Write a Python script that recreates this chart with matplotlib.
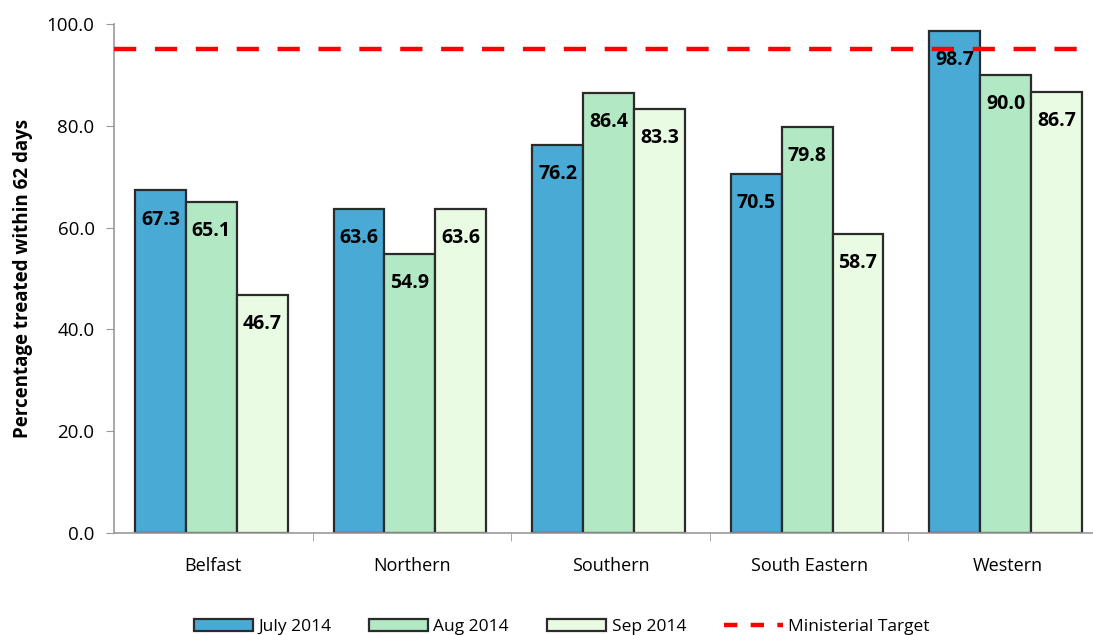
import numpy as np
import matplotlib
matplotlib.use("Agg")
import matplotlib.pyplot as plt
from matplotlib.patches import Patch
from matplotlib.lines import Line2D

plt.rcParams["font.family"] = ["Open Sans", "DejaVu Sans"]

regions = ["Belfast", "Northern", "Southern", "South Eastern", "Western"]
months = ["July 2014", "Aug 2014", "Sep 2014"]
jul = [67.3, 63.6, 76.2, 70.5, 98.7]
aug = [65.1, 54.9, 86.4, 79.8, 90.0]
sep = [46.7, 63.6, 83.3, 58.7, 86.7]
target = 95.0
yticks = [0, 20, 40, 60, 80, 100]

colors = ["#4aaad6", "#b3e8c4", "#eafbe4"]
edge = "#2b2b2b"

fig = plt.figure(figsize=(10.93, 6.35), dpi=100)
ax = fig.add_axes([114 / 1093, 1 - 533 / 635, 993 / 1093, 509 / 635])

x = np.arange(len(regions))
w = 0.256
for i, (vals, c) in enumerate(zip([jul, aug, sep], colors)):
    pos = x + (i - 1) * w - 0.01
    ax.bar(pos, vals, width=w, color=c, edgecolor=edge, linewidth=1.6, zorder=2)
    for px, v in zip(pos, vals):
        ax.annotate(f"{v:.1f}", (px, v), xytext=(0, -21), textcoords="offset points",
                    ha="center", va="center", fontsize=14, fontweight="bold", zorder=4)

ax.axhline(target, color="#ff0000", linewidth=3.2, dashes=(5, 4.2), zorder=3)

ax.set_xlim(-0.5, len(regions) - 0.5)
ax.set_ylim(0, 100)
ax.set_yticks(yticks)
ax.set_yticklabels([f"{t:.1f}" for t in yticks], fontsize=13.5)
ax.set_xticks(x)
ax.set_xticklabels(regions, fontsize=13)
ax.tick_params(axis="x", length=0, pad=17)
ax.set_xticks(np.arange(len(regions)) + 0.5, minor=True)
ax.tick_params(axis="x", which="minor", length=6, color="#999999", direction="out")
ax.tick_params(axis="y", length=6, color="#999999", direction="out", pad=8)
for s in ["top", "right"]:
    ax.spines[s].set_visible(False)
for s in ["left", "bottom"]:
    ax.spines[s].set_color("#999999")
    ax.spines[s].set_linewidth(1.2)
ax.set_ylabel("Percentage treated within 62 days", fontsize=13.5, fontweight="bold", labelpad=10)

handles = [Patch(facecolor=c, edgecolor=edge, linewidth=1.6) for c in colors]
handles.append(Line2D([0], [0], color="#ff0000", linewidth=3.2, dashes=(3, 3)))
fig.legend(handles, months + ["Ministerial Target"], loc="lower center",
           bbox_to_anchor=(0.514, -0.025), ncol=4, frameon=False, fontsize=12.5,
           handlelength=3.4, handleheight=0.7, columnspacing=2.2, handletextpad=0.3)

fig.savefig("out.png", dpi=100)
